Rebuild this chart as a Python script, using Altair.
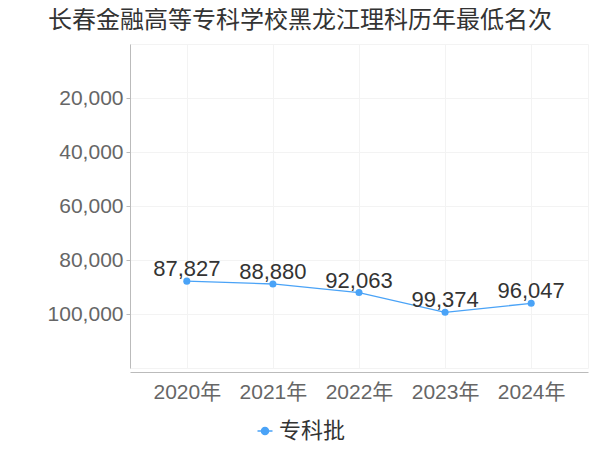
import altair as alt
import pandas as pd

years = ["2020年", "2021年", "2022年", "2023年", "2024年"]
ranks = [87827, 88880, 92063, 99374, 96047]
series = ["专科批"] * 5
title_text = "长春金融高等专科学校黑龙江理科历年最低名次"
y_ticks = [20000, 40000, 60000, 80000, 100000]

df = pd.DataFrame({"year": years, "rank": ranks, "series": series})
df["label"] = [f"{v:,}" for v in ranks]

FONT = "Liberation Sans, Noto Sans CJK SC"
BLUE = "#4aa3f7"

x = alt.X("year:N", scale=alt.Scale(type="point", padding=0.66),
          axis=alt.Axis(title=None, labelAngle=0, ticks=False, domainColor="#bbbbbb",
                        labelFontSize=21, labelColor="#666666", labelFont=FONT,
                        gridColor="#f3f3f3", grid=True, offset=4, labelPadding=9))
y = alt.Y("rank:Q", scale=alt.Scale(domain=[0, 120000], reverse=True, nice=False),
          axis=alt.Axis(title=None, values=y_ticks, format=",d", tickSize=4,
                        tickColor="#bbbbbb", domainColor="#bbbbbb", labelFontSize=21,
                        labelColor="#666666", labelFont=FONT, gridColor="#f3f3f3",
                        labelPadding=3))

legend_symbol = "M-1,0H1M0.47,0A0.47,0.47,0,1,1,-0.47,0A0.47,0.47,0,1,1,0.47,0Z"

line = alt.Chart(df).mark_line(strokeWidth=1.3).encode(
    x=x, y=y,
    color=alt.Color("series:N", scale=alt.Scale(range=[BLUE]),
                    legend=alt.Legend(title=None, orient="none", legendX=124, legendY=376,
                                      symbolType=legend_symbol, symbolSize=225,
                                      symbolStrokeWidth=1.5, symbolFillColor=BLUE,
                                      labelFontSize=22, labelColor="#333333", labelFont=FONT,
                                      labelOffset=3)),
)
points = alt.Chart(df).mark_circle(size=50, opacity=1, color=BLUE).encode(x=x, y=y)
labels = alt.Chart(df).mark_text(fontSize=22, color="#333333", font=FONT,
                                 baseline="alphabetic", dy=-5).encode(
    x=x, y=y, text="label:N")

chart = (line + points + labels).properties(
    width=458, height=324,
    title=alt.TitleParams(title_text, fontSize=24, font=FONT, color="#333333",
                          fontWeight="normal", anchor="middle", dx=-59, offset=11),
    autosize=alt.AutoSizeParams(type="none"),
    padding={"left": 122, "top": 36, "right": 4, "bottom": 74},
).configure_view(stroke="#f3f3f3")

chart.save("out.html", embed_options={"renderer": "svg", "actions": False})
